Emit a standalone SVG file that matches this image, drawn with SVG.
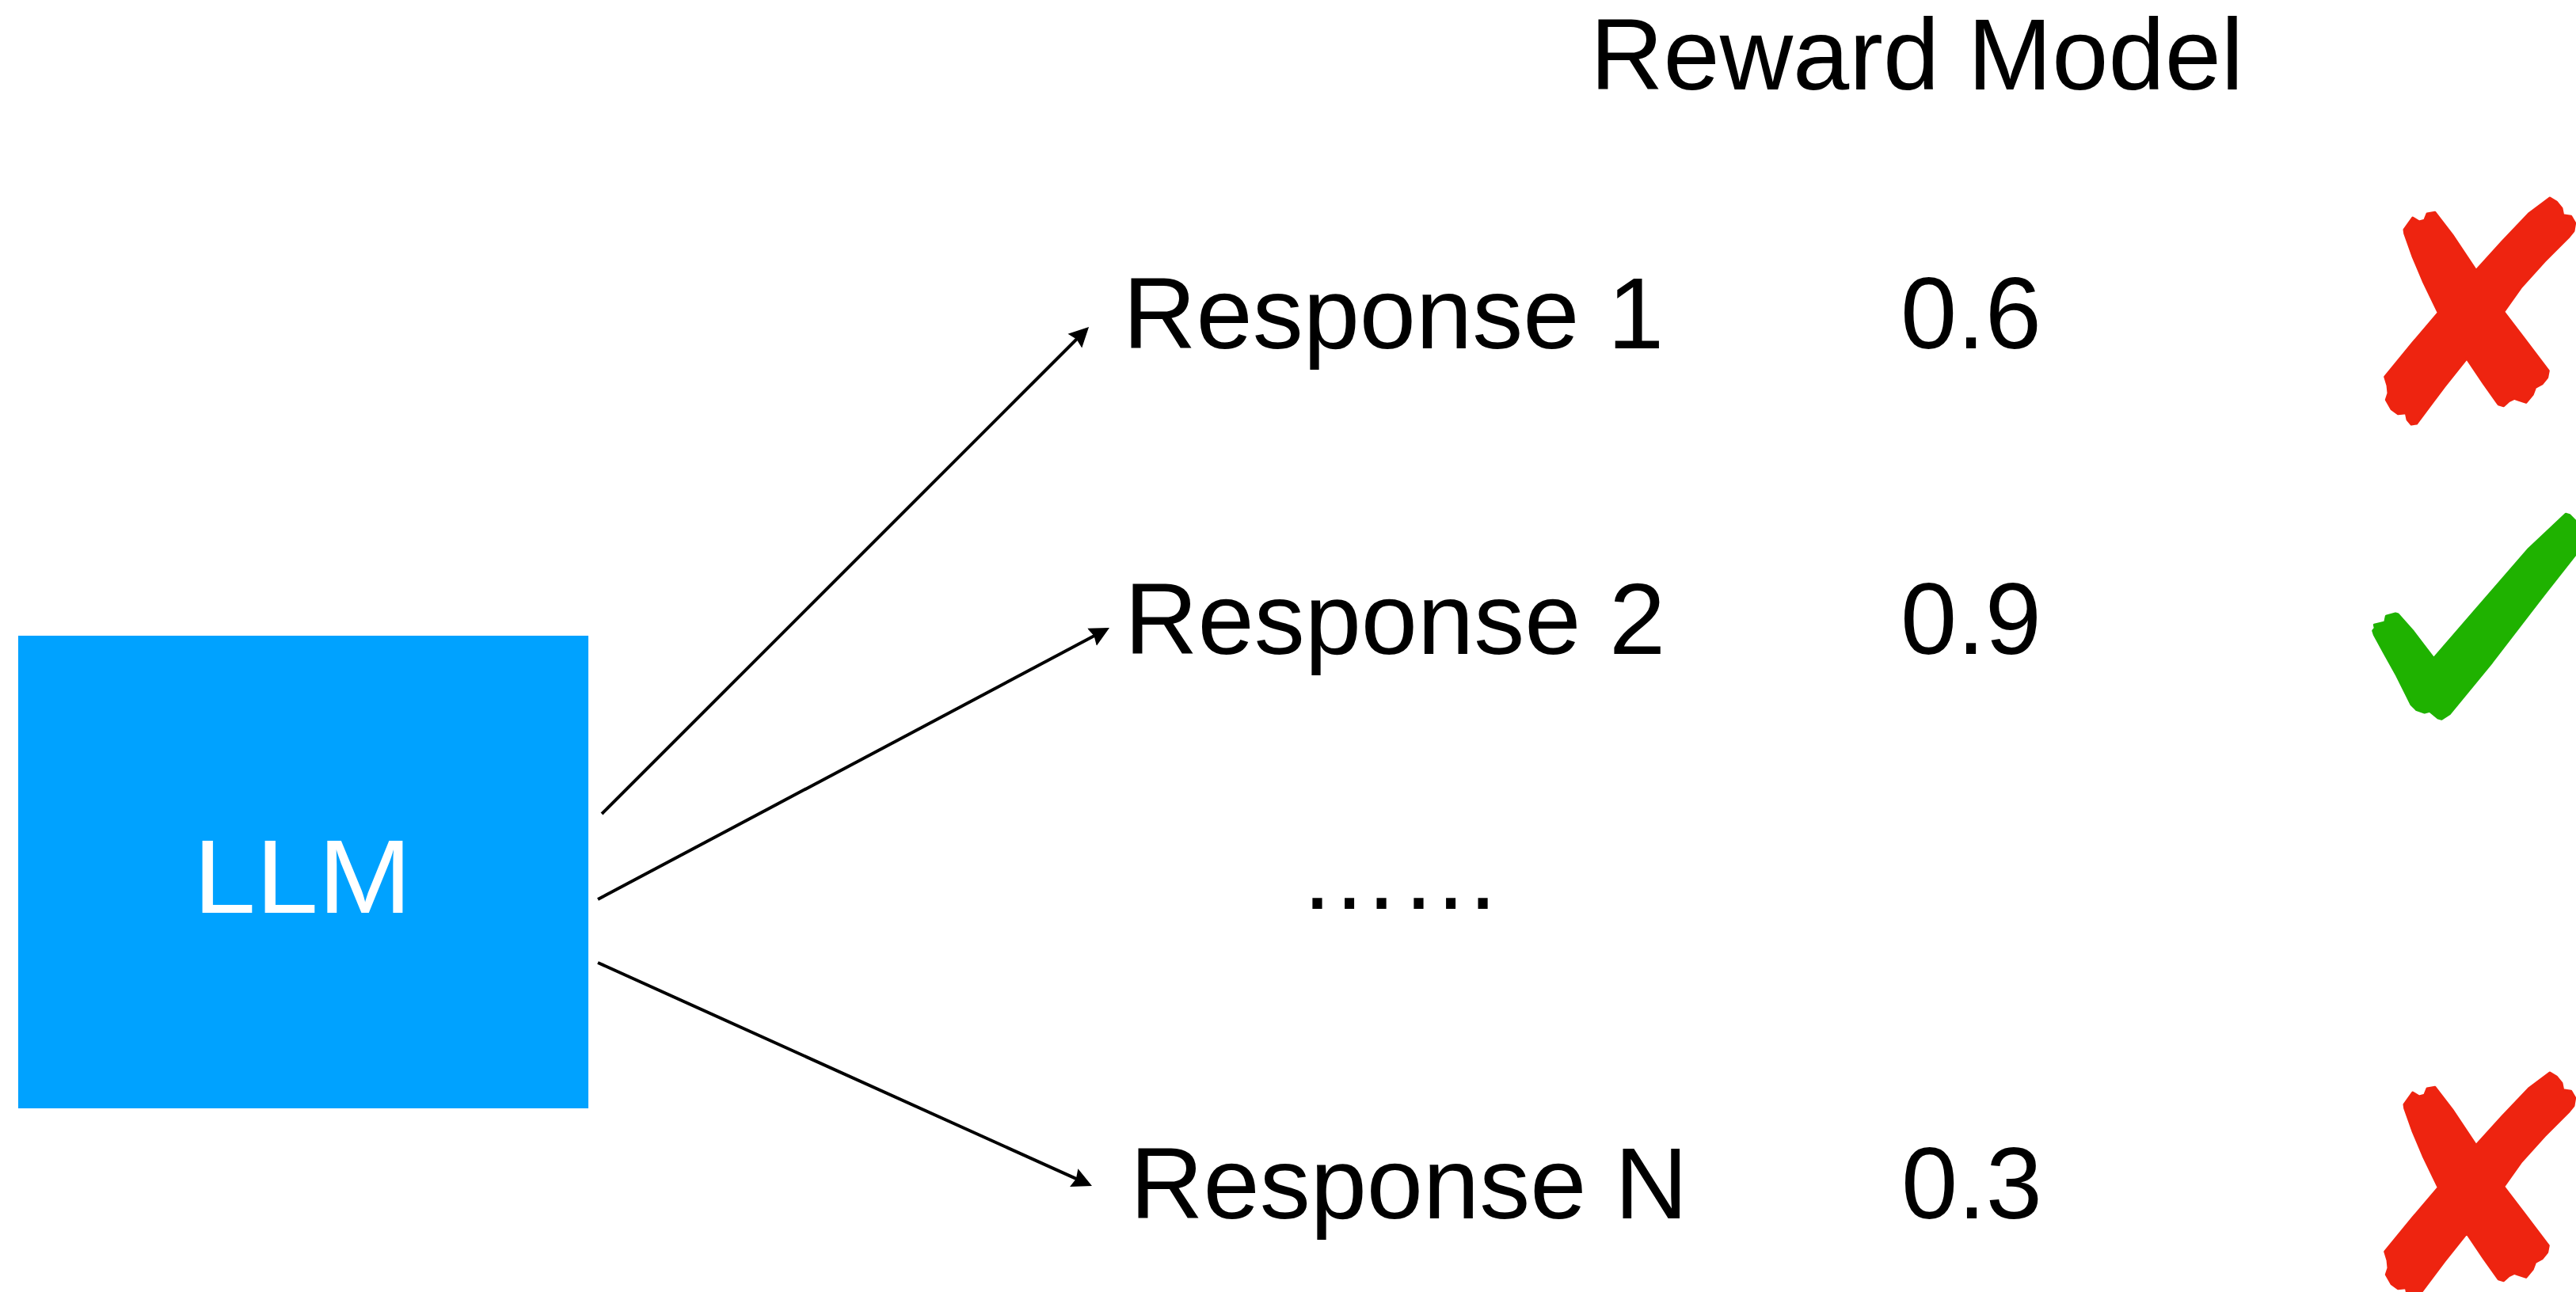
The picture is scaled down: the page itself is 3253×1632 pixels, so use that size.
<svg xmlns="http://www.w3.org/2000/svg" xmlns:xlink="http://www.w3.org/1999/xlink" width="3253" height="1632" viewBox="0 0 3253 1632">
  <style>
    .t { font-family: "Liberation Sans", Arial, Helvetica, sans-serif; font-size: 128px; fill: #000; }
    .llm { font-family: "Liberation Sans", Arial, Helvetica, sans-serif; font-size: 132px; fill: #fff; text-anchor: middle; }
    .conn { stroke: #000; stroke-width: 4; fill: none; marker-end: url(#arrow); }
    .red { fill: #EE2410; stroke: #EE2410; stroke-width: 3; stroke-linejoin: round; }
    .green { fill: #1FB200; stroke: #1FB200; stroke-width: 3; stroke-linejoin: round; }
  </style>
  <defs>
    <marker id="arrow" markerUnits="userSpaceOnUse" markerWidth="26" markerHeight="26" viewBox="0 0 26 26" refX="20" refY="13" orient="auto">
      <path d="M0,0.5 L25,13 L0,25.5 L3,13 z" fill="#000"/>
    </marker>
    <path id="crossShape" class="red" d="M3036,290 L3046.7,275 L3055,280 L3061.7,278.3 L3065,270 L3075,268.3 L3080,275 L3096.7,296.7 L3126.7,341.7 L3160,305 L3193.3,270 L3220,250 L3228.3,255 L3235,263.3 L3236.7,271.7 L3246.7,273.3 L3251.7,281.7 L3250,291.7 L3243.3,300 L3213.3,330 L3183.3,363.3 L3161.7,394 L3186.7,426.7 L3218.3,468.3 L3216.7,476.7 L3210,485 L3201.7,489.3 L3198.3,498.3 L3190,508.3 L3180,505 L3175,503.3 L3168.3,506.7 L3161.7,512.7 L3155,510.7 L3136.7,485 L3115,452.7 L3086.7,488.3 L3051.7,535 L3045,536 L3040,530 L3038.3,521.7 L3028.3,522.7 L3020,516.7 L3013.3,505 L3016,496.7 L3015,486.7 L3011.7,476 L3046.7,433.3 L3079.3,395 L3060,355 L3046.7,323.3 L3036.7,295 Z"/>
  </defs>

  <rect width="3253" height="1632" fill="#fff"/>

  <g id="node-llm">
    <rect x="23" y="803" width="720" height="597" fill="#00A2FF"/>
    <text class="llm" x="382" y="1153" textLength="276" lengthAdjust="spacingAndGlyphs">LLM</text>
  </g>

  <g id="node-reward-model">
    <text class="t" x="2008" y="113">Reward Model</text>
  </g>

  <g id="node-response-1">
    <text class="t" x="1418" y="440">Response 1</text>
  </g>
  <g id="node-response-2">
    <text class="t" x="1420" y="826">Response 2</text>
  </g>
  <g id="node-ellipsis">
    <text class="t" x="1640" y="1148">……</text>
  </g>
  <g id="node-response-n">
    <text class="t" x="1427" y="1539">Response N</text>
  </g>

  <g id="node-score-1">
    <text class="t" x="2400" y="440">0.6</text>
  </g>
  <g id="node-score-2">
    <text class="t" x="2400" y="826">0.9</text>
  </g>
  <g id="node-score-n">
    <text class="t" x="2401" y="1539">0.3</text>
  </g>

  <g id="node-mark-1">
    <use xlink:href="#crossShape" href="#crossShape"/>
  </g>
  <g id="node-mark-2">
    <path class="green" d="M2996.7,796.7 L2999.3,793.3 L2998.3,789.3 L3011.7,786 L3013.3,778.3 L3025,775 L3028.3,776 L3046.7,796.7 L3073.3,831.7 L3126.7,770 L3193.3,693.3 L3240,649.3 L3245,650.7 L3254,660 L3254,698.3 L3213.3,750 L3146.7,836.7 L3093.3,901.7 L3083.3,908.3 L3078.3,906.7 L3068.3,898.3 L3061.7,900 L3051.7,896.7 L3045,890 L3038.3,876.7 L3026.7,853.3 L3010,823.3 L2998.3,801.7 Z"/>
  </g>
  <g id="node-mark-n">
    <use xlink:href="#crossShape" href="#crossShape" transform="translate(0,1105)"/>
  </g>

  <g id="connectors">
    <line class="conn" x1="760" y1="1028" x2="1371.5" y2="416.5"/>
    <line class="conn" x1="755" y1="1136" x2="1396.6" y2="795.3"/>
    <line class="conn" x1="755" y1="1216" x2="1374.4" y2="1495.9"/>
  </g>
</svg>
